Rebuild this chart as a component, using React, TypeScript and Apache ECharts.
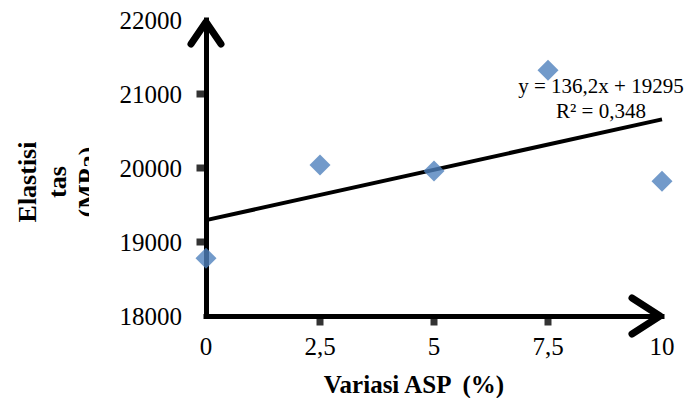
import React, { useEffect, useRef } from "react";
import * as echarts from "echarts";

const xValues = [0, 2.5, 5, 7.5, 10];
const yValues = [18780, 20040, 19960, 21320, 19820];
const trendSlope = 136.2;
const trendIntercept = 19295;
const trendRange = [0, 10];
const xTicks = [2.5, 5, 7.5];
const yTicks = [19000, 20000, 21000];
const equationLines = ["y = 136,2x + 19295", "R² = 0,348"];
const xTitle = "Variasi ASP  (%)";
const yTitleLines = ["Elastisi", "tas", "(MPa)"];

const SERIF = "'Liberation Serif', 'Times New Roman', serif";

export default function App() {
  const ref = useRef<HTMLDivElement>(null);
  useEffect(() => {
    if (!ref.current) return;
    const chart = echarts.init(ref.current, null, { renderer: "svg" });
    const axisLine = { show: true, lineStyle: { color: "#000", width: 5, cap: "square" } };
    const px = (v: number[]) => chart.convertToPixel({ gridIndex: 0 }, v) as number[];
    chart.setOption({
      animation: false,
      backgroundColor: "#fff",
      grid: { left: 206, right: 24, top: 20, bottom: 82 },
      xAxis: {
        type: "value",
        min: 0,
        max: 10,
        interval: 2.5,
        axisLine,
        axisTick: { show: false },
        splitLine: { show: false },
        axisLabel: {
          margin: 18,
          fontFamily: SERIF,
          fontSize: 25,
          color: "#000",
          formatter: (v: number) => String(v).replace(".", ","),
        },
      },
      yAxis: {
        type: "value",
        min: 18000,
        max: 22000,
        interval: 1000,
        axisLine,
        axisTick: { show: false },
        splitLine: { show: false },
        axisLabel: {
          margin: 24,
          fontFamily: SERIF,
          fontSize: 25,
          color: "#000",
          formatter: (v: number) => String(v),
        },
      },
      series: [
        {
          type: "line",
          data: trendRange.map((x) => [x, trendIntercept + trendSlope * x]),
          symbol: "none",
          lineStyle: { color: "#000", width: 4 },
          z: 2,
        },
        {
          type: "scatter",
          data: xValues.map((x, i) => [x, yValues[i]]),
          symbol: "diamond",
          symbolSize: 21,
          itemStyle: { color: "#4F81BD" },
          z: 3,
        },
        {
          type: "scatter",
          data: yTicks.map((v) => [0, v]),
          symbol: "rect",
          symbolSize: [9, 7],
          symbolOffset: [-5, 0],
          itemStyle: { color: "#000" },
          silent: true,
          z: 4,
        },
        {
          type: "scatter",
          data: xTicks.map((v) => [v, 18000]),
          symbol: "rect",
          symbolSize: [7, 9],
          symbolOffset: [0, 5],
          itemStyle: { color: "#000" },
          silent: true,
          z: 4,
        },
      ],
    });
    const yt = px([0, 22000]);
    const xr = px([10, 18000]);
    const arrowStyle = { stroke: "#000", lineWidth: 7, lineCap: "round", lineJoin: "round", fill: null };
    chart.setOption({
      graphic: [
        {
          type: "polyline",
          shape: { points: [[yt[0] - 15, yt[1] + 24], [yt[0], yt[1] + 2], [yt[0] + 15, yt[1] + 24]] },
          style: arrowStyle,
          z: 10,
        },
        {
          type: "polyline",
          shape: { points: [[xr[0] - 30, xr[1] - 18], [xr[0] - 2, xr[1]], [xr[0] - 30, xr[1] + 18]] },
          style: arrowStyle,
          z: 10,
        },
        {
          type: "text",
          x: 601,
          y: 98,
          style: {
            text: equationLines.join("\n"),
            font: `21px ${SERIF}`,
            fill: "#000",
            align: "center",
            verticalAlign: "middle",
            lineHeight: 25,
          },
          z: 11,
        },
        {
          type: "text",
          x: 414,
          y: 384,
          style: {
            text: xTitle,
            font: `bold 25px ${SERIF}`,
            fill: "#000",
            align: "center",
            verticalAlign: "middle",
          },
        },
        {
          type: "text",
          x: 57,
          y: 182,
          rotation: Math.PI / 2,
          style: {
            text: yTitleLines.join("\n"),
            font: `bold 26px ${SERIF}`,
            fill: "#000",
            align: "center",
            verticalAlign: "middle",
            lineHeight: 30,
          },
        },
        {
          type: "rect",
          shape: { x: 89, y: 90, width: 28, height: 190 },
          style: { fill: "#fff" },
          z: 5,
        },
      ],
    });
    return () => chart.dispose();
  }, []);
  return <div ref={ref} style={{ width: 686, height: 398, position: "absolute", left: 0, top: 0 }} />;
}
